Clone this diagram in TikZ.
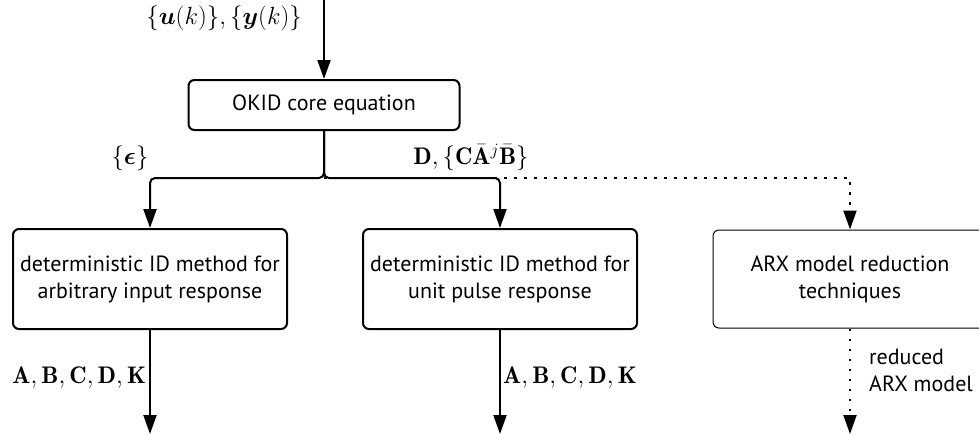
\documentclass[tikz,border=0pt]{standalone}
\usepackage{fontspec}
\setsansfont{PT Sans}
\usepackage{amsmath,bm}
\usetikzlibrary{arrows.meta}

\begin{document}
\begin{tikzpicture}[x=1pt,y=-1pt,
  boxtext/.style={font=\sffamily\fontsize{22}{27}\selectfont, align=center},
  box/.style={boxtext, draw, line width=2pt, rounded corners=6pt, inner sep=0pt},
  thinbox/.style={box, line width=1pt},
  mathlabel/.style={font=\fontsize{24}{28}\selectfont, inner sep=0pt},
  tip/.style={-{Triangle[length=19pt,width=13pt]}},
  flow/.style={tip, line width=2pt},
  dotflow/.style={tip, line width=2pt, dash pattern=on 2.5pt off 7.5pt},
]
\useasboundingbox (0,0) rectangle (979,434);
\clip (0,0) rectangle (979,434);

% boxes
\node[box, minimum width=271pt, minimum height=50pt] (okid) at (324,105) {OKID core equation};
\node[box, minimum width=274pt, minimum height=100pt] (b1) at (150,279)
  {deterministic ID method for\\arbitrary input response};
\node[box, minimum width=274pt, minimum height=100pt] (b2) at (500,279)
  {deterministic ID method for\\unit pulse response};
\node[thinbox, minimum width=274pt, minimum height=98pt] (b3) at (850,279)
  {ARX model reduction\\techniques};

% free ends and junction
\coordinate (in) at (324,0);
\coordinate (j) at (324,178);
\coordinate (o1) at (150,434);
\coordinate (o2) at (500,434);
\coordinate (o3) at (850,434);

% connectors
\draw[flow] (in) -- (okid.north);
\draw[dotflow] (j) -| (b3.north);
\draw[flow, rounded corners=5pt] (okid.south) -- (j) -| (b1.north);
\draw[flow, rounded corners=5pt] (okid.south) -- (j) -| (b2.north);
\draw[flow] (b1.south) -- (o1);
\draw[flow] (b2.south) -- (o2);
\draw[dotflow] (b3.south) -- (o3);

% labels
\node[mathlabel, anchor=east] (lin) at (302,18)
  {$\{\bm{u}(k)\},\{\bm{y}(k)\}$};
\node[mathlabel] (leps) at (130,158) {$\{\bm{\epsilon}\}$};
\node[mathlabel] (lmark) at (471,157)
  {$\mathbf{D},\{\mathbf{C}\bar{\mathbf{A}}^{j}\bar{\mathbf{B}}\}$};
\node[mathlabel, anchor=east] (lo1) at (146,378)
  {$\mathbf{A},\mathbf{B},\mathbf{C},\mathbf{D},\mathbf{K}$};
\node[mathlabel, anchor=west] (lo2) at (503,378)
  {$\mathbf{A},\mathbf{B},\mathbf{C},\mathbf{D},\mathbf{K}$};
\node[boxtext, align=left, anchor=west, inner sep=0pt] (lo3) at (869,370)
  {reduced\\ARX model};
\end{tikzpicture}
\end{document}
